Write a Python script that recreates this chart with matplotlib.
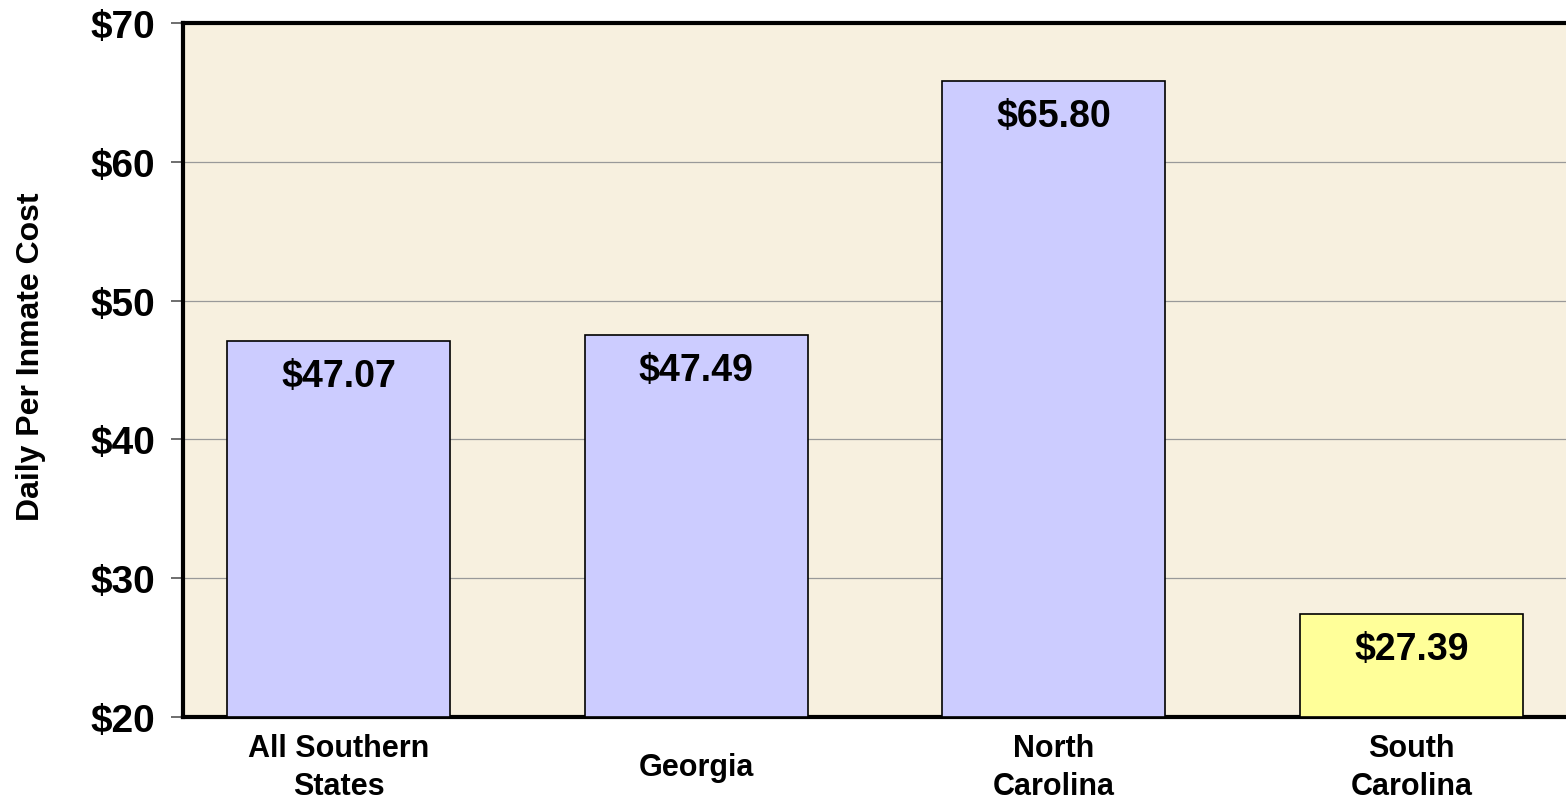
import matplotlib.pyplot as plt
from matplotlib.ticker import FuncFormatter
import matplotlib.transforms as mtransforms

# Chart data
states = ['All Southern\nStates', 'Georgia', 'North\nCarolina', 'South\nCarolina']
daily_cost = [47.07, 47.49, 65.80, 27.39]
bar_colors = ['#CCCCFF', '#CCCCFF', '#CCCCFF', '#FFFF99']
y_ticks = [20, 30, 40, 50, 60, 70]

plt.rcParams['font.family'] = ['Liberation Sans', 'DejaVu Sans']

fig = plt.figure(figsize=(15.66, 8.03), dpi=100)
ax = fig.add_axes([183 / 1566, 85 / 803, 1 - 183 / 1566, 694 / 803])
ax.set_facecolor('#F7F0DF')

x = list(range(len(states)))
ax.bar(x, [v - 20 for v in daily_cost], bottom=20, width=0.623,
       color=bar_colors, edgecolor='black', linewidth=1.2, zorder=3)

# Value labels inside the top of each bar
for xi, v in zip(x, daily_cost):
    ax.annotate(f'${v:.2f}', (xi, v), xytext=(0, -25), textcoords='offset points',
                ha='center', va='center', fontsize=27, fontweight='bold', zorder=4)

ax.set_xlim(-0.435, 3.432)
ax.set_ylim(20, 70)
ax.set_yticks(y_ticks)
ax.yaxis.set_major_formatter(FuncFormatter(lambda v, p: f'${v:.0f}'))
ax.tick_params(axis='y', labelsize=28, length=9, width=1.2, color='#555555', pad=11)
for lab in ax.get_yticklabels():
    lab.set_fontweight('bold')
ax.grid(axis='y', color='#999999', linewidth=0.9, zorder=0)

# Category labels centered vertically under the axis
ax.set_xticks([])
trans = mtransforms.blended_transform_factory(ax.transData, ax.transAxes)
for xi, name in zip(x, states):
    ax.text(xi, -0.072, name, transform=trans, ha='center', va='center',
            fontsize=22, fontweight='bold', linespacing=1.35)

ax.set_ylabel('Daily Per Inmate Cost', fontsize=23, fontweight='bold')
ax.yaxis.set_label_coords(-0.099, 0.52)

for side in ['top', 'right']:
    ax.spines[side].set_visible(False)
ax.spines['left'].set_linewidth(3)
ax.spines['bottom'].set_linewidth(3)
ax.plot([0, 1], [1, 1], transform=ax.transAxes, color='black', linewidth=3, clip_on=False)

fig.savefig('out.png', dpi=100)
plt.close(fig)
